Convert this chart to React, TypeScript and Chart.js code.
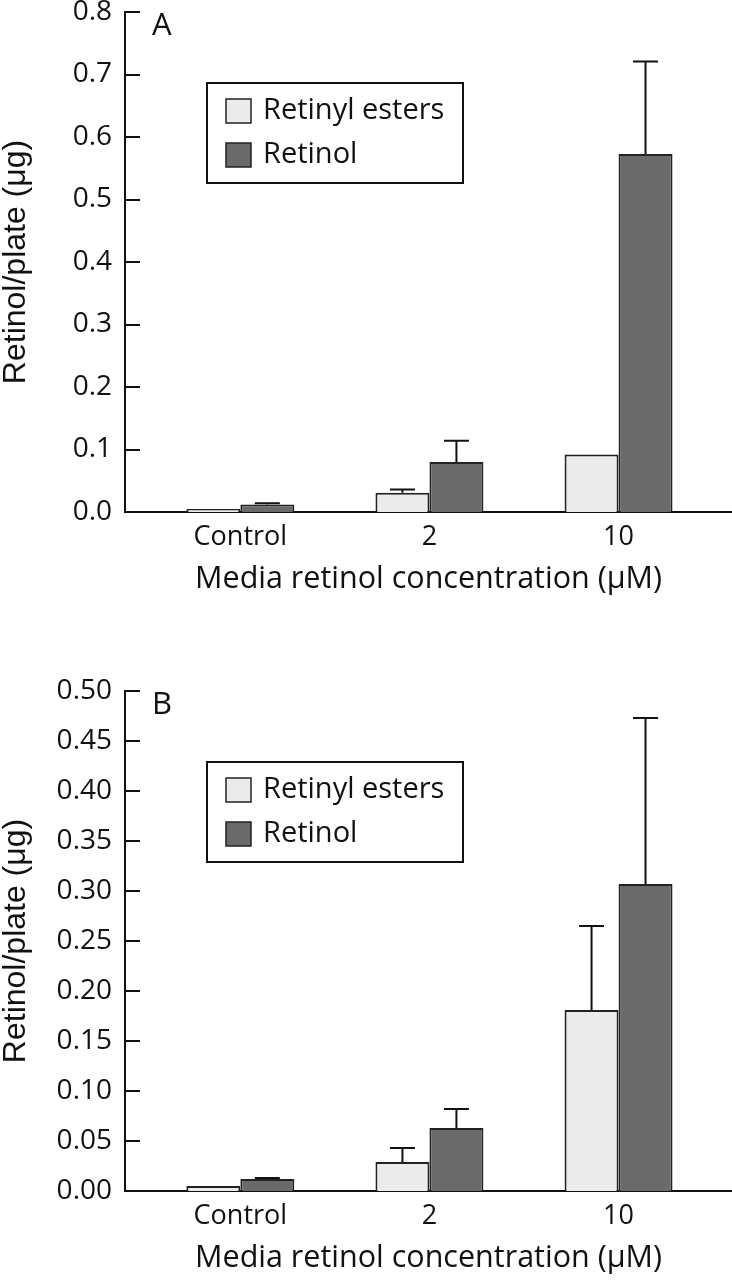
import React, { useEffect, useRef } from 'react';
import { Chart, registerables } from 'chart.js';

Chart.register(...registerables);

// ---- data ----
const categories = ['Control', '2', '10'];
const seriesNames = ['Retinyl esters', 'Retinol'];

const estersA = [0.005, 0.031, 0.092];
const estersErrA = [0, 0.005, 0];
const retinolA = [0.012, 0.08, 0.573];
const retinolErrA = [0.002, 0.034, 0.148];
const yTicksA = [0, 0.1, 0.2, 0.3, 0.4, 0.5, 0.6, 0.7, 0.8];

const estersB = [0.005, 0.029, 0.181];
const estersErrB = [0, 0.014, 0.084];
const retinolB = [0.012, 0.063, 0.307];
const retinolErrB = [0.001, 0.019, 0.166];
const yTicksB = [0, 0.05, 0.1, 0.15, 0.2, 0.25, 0.3, 0.35, 0.4, 0.45, 0.5];

const xTitle = 'Media retinol concentration (μM)';
const yTitle = 'Retinol/plate (μg)';

// ---- style ----
const LIGHT = '#ebebeb';
const DARK = '#6a6a6a';
const EDGE = '#222222';
const INK = '#111111';
const FONT = 'Open Sans';
const CANVAS_W = 732;
const CANVAS_H = 625;

type PanelProps = {
  top: number;
  letter: string;
  esters: number[];
  estersErr: number[];
  retinol: number[];
  retinolErr: number[];
  yTicks: number[];
  yMax: number;
  decimals: number;
};

function Panel(props: PanelProps) {
  const ref = useRef<HTMLCanvasElement | null>(null);

  useEffect(() => {
    const canvas = ref.current;
    if (!canvas) return;
    const { letter, esters, estersErr, retinol, retinolErr, yTicks, yMax, decimals } = props;
    const errs = [estersErr, retinolErr];

    const inwardTicks = {
      id: 'inwardTicks',
      afterDraw(chart: any) {
        const ctx = chart.ctx;
        const ys = chart.scales.y;
        const left = chart.chartArea.left;
        ctx.save();
        ctx.strokeStyle = INK;
        ctx.lineWidth = 2;
        ys.ticks.forEach((t: any) => {
          const p = Math.round(ys.getPixelForValue(t.value));
          ctx.beginPath();
          ctx.moveTo(left, p);
          ctx.lineTo(left + 15, p);
          ctx.stroke();
        });
        ctx.restore();
      },
    };

    const errorBars = {
      id: 'errorBars',
      afterDatasetsDraw(chart: any) {
        const ctx = chart.ctx;
        const ys = chart.scales.y;
        ctx.save();
        ctx.strokeStyle = INK;
        ctx.lineWidth = 2;
        chart.data.datasets.forEach((ds: any, di: number) => {
          const meta = chart.getDatasetMeta(di);
          meta.data.forEach((bar: any, i: number) => {
            const e = errs[di][i];
            if (!e) return;
            const v = ds.data[i].y;
            const yTop = ys.getPixelForValue(v + e);
            ctx.beginPath();
            ctx.moveTo(bar.x, bar.y);
            ctx.lineTo(bar.x, yTop);
            ctx.moveTo(bar.x - 12.5, yTop);
            ctx.lineTo(bar.x + 12.5, yTop);
            ctx.stroke();
          });
        });
        ctx.restore();
      },
    };

    const legendBox = {
      id: 'legendBox',
      afterDraw(chart: any) {
        const ctx = chart.ctx;
        const top = chart.chartArea.top;
        ctx.save();
        // panel letter
        ctx.fillStyle = INK;
        ctx.font = `31px "${FONT}"`;
        ctx.textBaseline = 'middle';
        ctx.textAlign = 'left';
        ctx.fillText(letter, 152, top + 14);
        // legend frame
        const lt = top + 71;
        ctx.strokeStyle = INK;
        ctx.lineWidth = 2;
        ctx.strokeRect(207, lt, 256, 100);
        chart.data.datasets.forEach((ds: any, k: number) => {
          const sy = lt + 16 + k * 44;
          ctx.fillStyle = ds.backgroundColor;
          ctx.fillRect(226, sy, 25, 24);
          ctx.strokeStyle = EDGE;
          ctx.lineWidth = 1.5;
          ctx.strokeRect(226, sy, 25, 24);
          ctx.fillStyle = INK;
          ctx.font = `29px "${FONT}"`;
          ctx.fillText(ds.label, 263, sy + 12);
        });
        ctx.restore();
      },
    };

    const makeData = (vals: number[]) => vals.map((v, i) => ({ x: i, y: v }));

    const chart = new Chart(canvas, {
      type: 'bar',
      data: {
        datasets: [
          {
            label: seriesNames[0],
            data: makeData(esters),
            backgroundColor: LIGHT,
            borderColor: EDGE,
            borderWidth: 2,
            categoryPercentage: 0.571,
            barPercentage: 1,
          },
          {
            label: seriesNames[1],
            data: makeData(retinol),
            backgroundColor: DARK,
            borderColor: EDGE,
            borderWidth: 2,
            categoryPercentage: 0.571,
            barPercentage: 1,
          },
        ],
      } as any,
      options: {
        animation: false,
        responsive: false,
        devicePixelRatio: 1,
        layout: { padding: { top: 30, left: 0, right: 0, bottom: 0 } },
        scales: {
          x: {
            type: 'linear',
            min: -0.61,
            max: 2.6,
            offset: false,
            grid: { display: false, drawTicks: false },
            border: { display: true, color: INK, width: 2 },
            afterBuildTicks: (s: any) => {
              s.ticks = categories.map((_, i) => ({ value: i }));
            },
            afterFit: (s: any) => {
              s.height = 95;
            },
            ticks: {
              autoSkip: false,
              maxRotation: 0,
              padding: 9,
              color: INK,
              font: { family: FONT, size: 27 },
              callback: (v: any) => categories[v],
            },
            title: {
              display: true,
              text: xTitle,
              color: INK,
              font: { family: FONT, size: 30.5 },
              padding: { top: 0, bottom: 9 },
            },
          },
          y: {
            min: 0,
            max: yMax,
            grid: { display: false, drawTicks: false },
            border: { display: true, color: INK, width: 2 },
            afterBuildTicks: (s: any) => {
              s.ticks = yTicks.map((v) => ({ value: v }));
            },
            afterFit: (s: any) => {
              s.width = 125;
            },
            ticks: {
              padding: 13,
              color: INK,
              font: { family: FONT, size: 28 },
              callback: (v: any) => Number(v).toFixed(decimals),
            },
            title: {
              display: true,
              text: yTitle,
              color: INK,
              font: { family: 'Liberation Sans', size: 32, lineHeight: 1 },
              padding: 0,
            },
          },
        },
        plugins: {
          legend: { display: false },
          tooltip: { enabled: false },
        },
      } as any,
      plugins: [inwardTicks, errorBars, legendBox],
    });

    return () => {
      chart.destroy();
    };
  }, []);

  return (
    <canvas
      ref={ref}
      width={CANVAS_W}
      height={CANVAS_H}
      style={{ position: 'absolute', left: 0, top: props.top, width: CANVAS_W, height: CANVAS_H, display: 'block' }}
    />
  );
}

export default function App() {
  return (
    <div
      style={{
        position: 'fixed',
        left: 0,
        top: 0,
        width: 732,
        height: 1280,
        overflow: 'hidden',
        background: '#ffffff',
      }}
    >
      <Panel
        top={-18}
        letter="A"
        esters={estersA}
        estersErr={estersErrA}
        retinol={retinolA}
        retinolErr={retinolErrA}
        yTicks={yTicksA}
        yMax={0.8}
        decimals={1}
      />
      <Panel
        top={661}
        letter="B"
        esters={estersB}
        estersErr={estersErrB}
        retinol={retinolB}
        retinolErr={retinolErrB}
        yTicks={yTicksB}
        yMax={0.5}
        decimals={2}
      />
    </div>
  );
}
